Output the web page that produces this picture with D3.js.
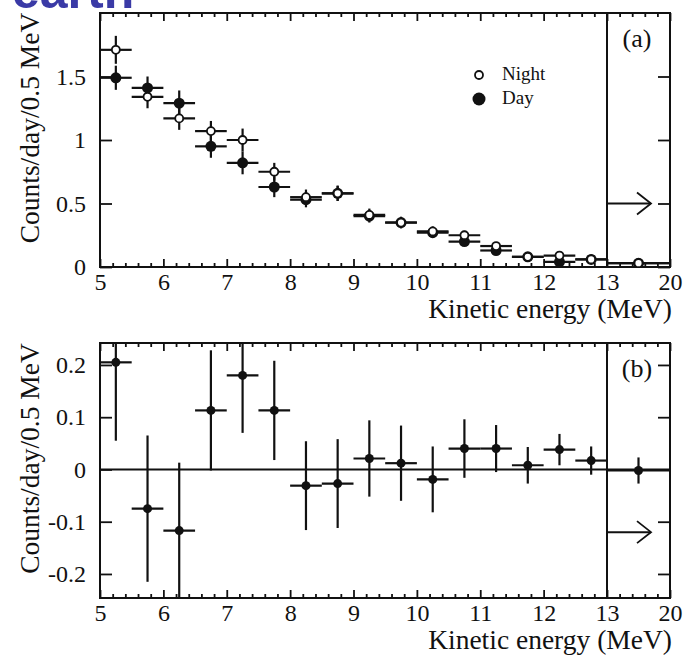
<!DOCTYPE html>
<html>
<head>
<meta charset="utf-8">
<script src="https://cdn.jsdelivr.net/npm/d3@7"></script>
<style>
  body { margin: 0; background: #fff; }
  svg { display: block; }
  text { font-family: "Liberation Serif", "Times New Roman", serif; fill: #111; }
</style>
</head>
<body>
<div id="chart"></div>
<script>
const W = 684, H = 656;

// energy bins (MeV); last bin is the 13-20 overflow
const binLo = [5, 5.5, 6, 6.5, 7, 7.5, 8, 8.5, 9, 9.5, 10, 10.5, 11, 11.5, 12, 12.5, 13];
const binHi = [5.5, 6, 6.5, 7, 7.5, 8, 8.5, 9, 9.5, 10, 10.5, 11, 11.5, 12, 12.5, 13, 20];

// panel (a)
const nightA    = [1.71, 1.34, 1.17, 1.07, 1.00, 0.75, 0.55, 0.58, 0.41, 0.35, 0.28, 0.25, 0.165, 0.08, 0.09, 0.06, 0.03];
const nightErrA = [0.11, 0.09, 0.09, 0.08, 0.09, 0.07, 0.06, 0.06, 0.05, 0.045, 0.04, 0.035, 0.03, 0.025, 0.02, 0.02, 0.015];
const dayA      = [1.49, 1.41, 1.29, 0.95, 0.82, 0.63, 0.53, 0.58, 0.40, 0.35, 0.27, 0.20, 0.13, 0.08, 0.04, 0.06, 0.03];
const dayErrA   = [0.095, 0.09, 0.10, 0.09, 0.09, 0.08, 0.06, 0.06, 0.05, 0.045, 0.04, 0.035, 0.03, 0.025, 0.02, 0.02, 0.015];

// panel (b): night - day
const diffB    = [0.205, -0.075, -0.117, 0.113, 0.18, 0.113, -0.031, -0.027, 0.021, 0.012, -0.019, 0.04, 0.04, 0.008, 0.038, 0.017, -0.002];
const diffErrB = [0.15, 0.14, 0.13, 0.115, 0.11, 0.095, 0.085, 0.085, 0.073, 0.072, 0.063, 0.056, 0.045, 0.035, 0.03, 0.027, 0.025];

const xTicks = [5, 6, 7, 8, 9, 10, 11, 12, 13, 20];
const yTicksA = [0, 0.5, 1, 1.5];
const yTicksB = [-0.2, -0.1, 0, 0.1, 0.2];
const arrowA = 0.5, arrowB = -0.12;

const svg = d3.select("#chart").append("svg").attr("width", W).attr("height", H);

// blue heading, cut off at the top edge as in the original scan
svg.append("text").attr("x", 12).attr("y", 8)
  .style("font-family", "'Liberation Sans', Arial, sans-serif")
  .style("font-weight", "bold").style("font-size", "50px").style("fill", "#3a3aa6")
  .text("earth");

// piecewise x: 5-13 linear, 13-20 squeezed into one unit width
const x = d3.scaleLinear().domain([5, 13, 20]).range([100, 607, 670]);
const minorX = d3.range(5, 13.01, 0.2).filter(v => Math.abs(v - Math.round(v)) > 0.01)
  .concat([14.4, 15.8, 17.2, 18.6]);
const xc = i => (x(binLo[i]) + x(binHi[i])) / 2;

function panel(id, y, yTicks, fmt, label, arrowVal) {
  const g = svg.append("g");
  const [y0, y1] = y.range();

  g.append("clipPath").attr("id", "clip" + id).append("rect")
    .attr("x", 100).attr("y", y1).attr("width", 570).attr("height", y0 - y1);

  // axes, ticks pointing inward
  const bot = g.append("g").attr("transform", `translate(0,${y0})`)
    .call(d3.axisBottom(x).tickValues(xTicks).tickSize(-8).tickPadding(6).tickFormat(d3.format("d")));
  bot.append("g").call(d3.axisBottom(x).tickValues(minorX).tickSize(-4).tickFormat(""));
  const top = g.append("g").attr("transform", `translate(0,${y1})`)
    .call(d3.axisTop(x).tickValues(xTicks).tickSize(-8).tickFormat(""));
  top.append("g").call(d3.axisTop(x).tickValues(minorX).tickSize(-4).tickFormat(""));
  g.append("g").attr("transform", "translate(100,0)")
    .call(d3.axisLeft(y).tickValues(yTicks).tickSize(-12).tickPadding(14).tickFormat(fmt));
  g.append("g").attr("transform", "translate(670,0)")
    .call(d3.axisRight(y).tickValues(yTicks).tickSize(-12).tickFormat(""));
  g.selectAll(".domain").remove();
  g.selectAll(".tick line").attr("stroke", "#111").attr("stroke-width", 1.8);
  g.selectAll(".tick text").style("font-size", "24px").style("font-family", "'Liberation Serif', serif").attr("fill", "#111");

  // frame and 13 MeV divider
  g.append("rect").attr("x", 100).attr("y", y1).attr("width", 570).attr("height", y0 - y1)
    .attr("fill", "none").attr("stroke", "#111").attr("stroke-width", 2);
  g.append("line").attr("x1", x(13)).attr("x2", x(13)).attr("y1", y1).attr("y2", y0)
    .attr("stroke", "#111").attr("stroke-width", 2);

  // overflow arrow
  const ay = y(arrowVal);
  g.append("line").attr("x1", x(13)).attr("x2", 651).attr("y1", ay).attr("y2", ay)
    .attr("stroke", "#111").attr("stroke-width", 2);
  g.append("path").attr("d", `M637,${ay - 11}L651,${ay}L637,${ay + 11}`)
    .attr("fill", "none").attr("stroke", "#111").attr("stroke-width", 1.8);

  // panel label
  g.append("text").attr("x", 637).attr("y", y1 + 34).attr("text-anchor", "middle")
    .style("font-size", "26px").text(label);

  // titles
  g.append("text").attr("x", 672).attr("y", y0 + 51).attr("text-anchor", "end")
    .style("font-size", "27.5px").text("Kinetic energy (MeV)");
  g.append("text").attr("transform", `translate(39,${(y0 + y1) / 2 - 12}) rotate(-90)`)
    .attr("text-anchor", "middle").style("font-size", "27.5px").text("Counts/day/0.5 MeV");

  return g.append("g").attr("clip-path", `url(#clip${id})`);
}

function errorBars(layer, y, vals, errs, w) {
  const idx = d3.range(vals.length);
  layer.selectAll(null).data(idx).join("line")
    .attr("x1", i => x(binLo[i])).attr("x2", i => x(binHi[i]))
    .attr("y1", i => y(vals[i])).attr("y2", i => y(vals[i]))
    .attr("stroke", "#111").attr("stroke-width", w);
  layer.selectAll(null).data(idx).join("line")
    .attr("x1", xc).attr("x2", xc)
    .attr("y1", i => y(vals[i] - errs[i])).attr("y2", i => y(vals[i] + errs[i]))
    .attr("stroke", "#111").attr("stroke-width", w);
}

// ---- panel (a)
const yA = d3.scaleLinear().domain([0, 2]).range([267, 13]);
const la = panel("a", yA, yTicksA, d => d === 0 ? "0" : d3.format("")(d), "(a)", arrowA);
errorBars(la, yA, nightA, nightErrA, 2.2);
errorBars(la, yA, dayA, dayErrA, 2.2);
la.selectAll(null).data(d3.range(dayA.length)).join("circle")
  .attr("cx", xc).attr("cy", i => yA(dayA[i])).attr("r", 5.5).attr("fill", "#111");
la.selectAll(null).data(d3.range(nightA.length)).join("circle")
  .attr("cx", xc).attr("cy", i => yA(nightA[i])).attr("r", 4).attr("fill", "#fff")
  .attr("stroke", "#111").attr("stroke-width", 1.8);

// legend
const leg = svg.append("g");
leg.append("circle").attr("cx", 479).attr("cy", 75).attr("r", 4).attr("fill", "#fff")
  .attr("stroke", "#111").attr("stroke-width", 1.8);
leg.append("circle").attr("cx", 479).attr("cy", 99).attr("r", 6.5).attr("fill", "#111");
leg.append("text").attr("x", 502).attr("y", 80).style("font-size", "19px").text("Night");
leg.append("text").attr("x", 502).attr("y", 104).style("font-size", "19px").text("Day");

// ---- panel (b)
const yB = d3.scaleLinear().domain([-0.246, 0.242]).range([598, 343]);
const lb = panel("b", yB, yTicksB, d => d === 0 ? "0" : d3.format(".1f")(d).replace("−", "-"), "(b)", arrowB);
lb.append("line").attr("x1", 100).attr("x2", 670).attr("y1", yB(0)).attr("y2", yB(0))
  .attr("stroke", "#111").attr("stroke-width", 2);
errorBars(lb, yB, diffB, diffErrB, 2.2);
lb.selectAll(null).data(d3.range(diffB.length)).join("circle")
  .attr("cx", xc).attr("cy", i => yB(diffB[i])).attr("r", 4.5).attr("fill", "#111");
</script>
</body>
</html>
